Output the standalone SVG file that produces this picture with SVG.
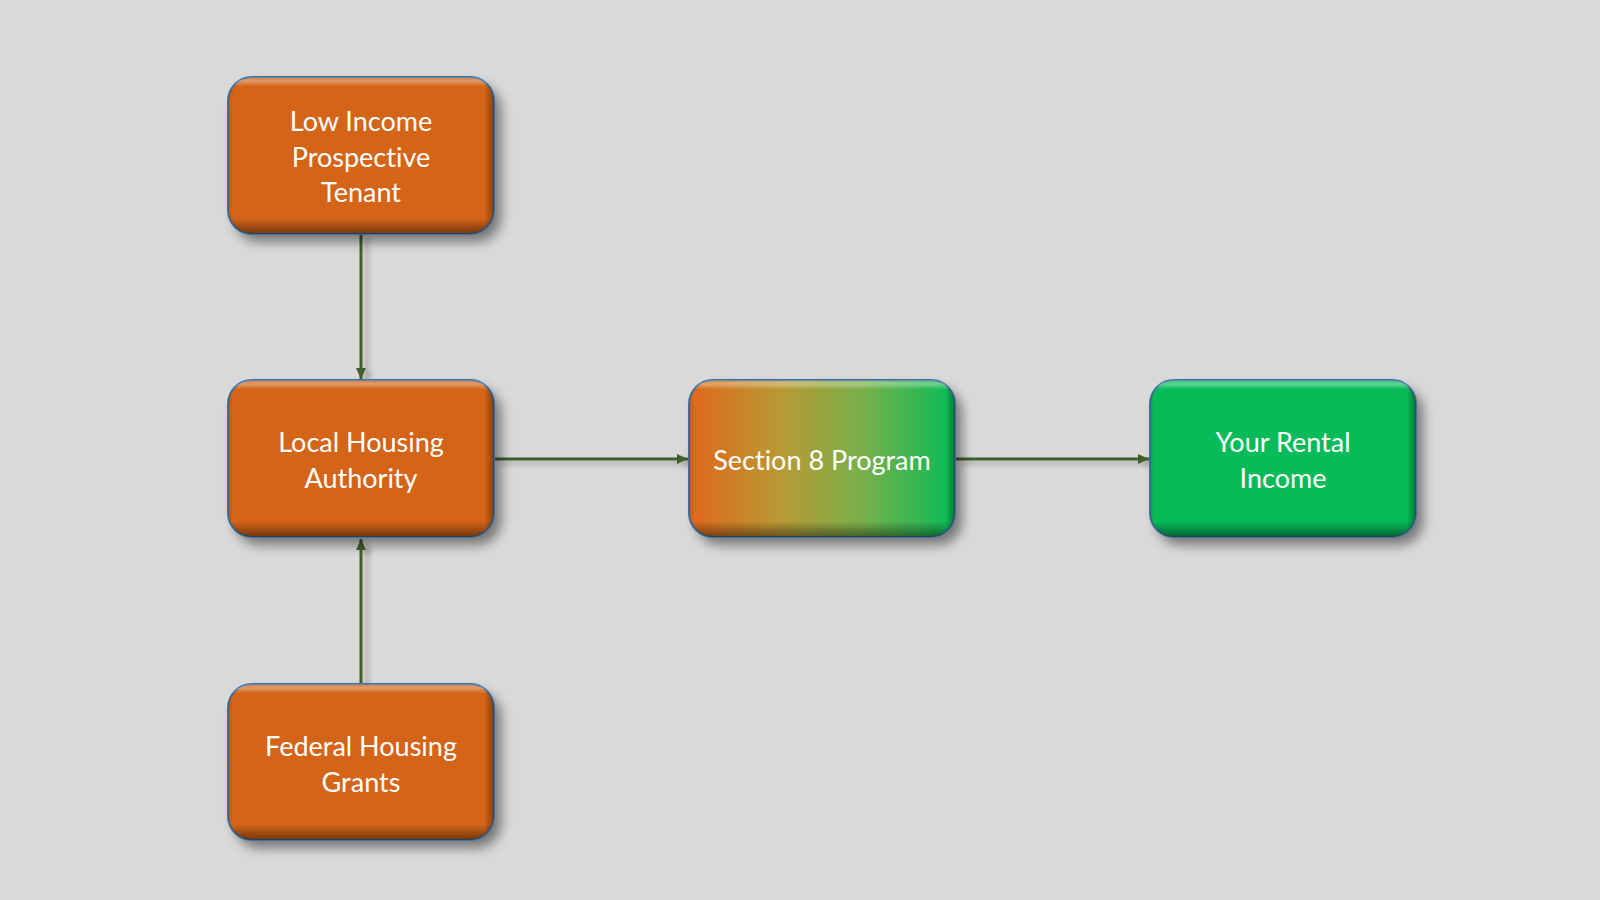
<svg xmlns="http://www.w3.org/2000/svg" width="1600" height="900" viewBox="0 0 1600 900">
<defs>
<style>
.lbl{font-family:Lato,"Open Sans","Liberation Sans",sans-serif;font-size:27px;fill:#ffffff;text-anchor:middle;font-variant-ligatures:none;font-feature-settings:"liga" 0}
.edge{stroke:#3f5f2a;stroke-width:3;fill:none}
.box{stroke:#41719c;stroke-width:2}
</style>
<linearGradient id="sec8" x1="0" y1="0" x2="1" y2="0">
<stop offset="0" stop-color="#e0671a"/>
<stop offset="0.35" stop-color="#b89a35"/>
<stop offset="0.65" stop-color="#79b04a"/>
<stop offset="1" stop-color="#08bc58"/>
</linearGradient>
<linearGradient id="rimV" x1="0" y1="0" x2="0" y2="1">
<stop offset="0" stop-color="#ffffff" stop-opacity="0.15"/>
<stop offset="0.025" stop-color="#ffffff" stop-opacity="0.35"/>
<stop offset="0.06" stop-color="#ffffff" stop-opacity="0"/>
<stop offset="0.9" stop-color="#000000" stop-opacity="0"/>
<stop offset="0.96" stop-color="#000000" stop-opacity="0.28"/>
<stop offset="1" stop-color="#000000" stop-opacity="0.45"/>
</linearGradient>
<linearGradient id="rimH" x1="0" y1="0" x2="1" y2="0">
<stop offset="0" stop-color="#000000" stop-opacity="0.12"/>
<stop offset="0.02" stop-color="#000000" stop-opacity="0"/>
<stop offset="0.965" stop-color="#000000" stop-opacity="0"/>
<stop offset="1" stop-color="#000000" stop-opacity="0.38"/>
</linearGradient>
<filter id="shadow" x="-20%" y="-20%" width="150%" height="150%">
<feGaussianBlur stdDeviation="6"/>
</filter>
<filter id="lshadow" x="-50%" y="-10%" width="200%" height="120%">
<feGaussianBlur in="SourceAlpha" stdDeviation="2.5"/>
<feOffset dx="6" dy="4" result="o"/>
<feComponentTransfer in="o" result="s"><feFuncA type="linear" slope="0.25"/></feComponentTransfer>
<feMerge><feMergeNode in="s"/><feMergeNode in="SourceGraphic"/></feMerge>
</filter>
<marker id="arr" markerUnits="userSpaceOnUse" markerWidth="12" markerHeight="12" viewBox="0 0 12 12" refX="11" refY="6" orient="auto">
<path d="M0,1 L11,6 L0,11 Z" fill="#3f5f2a"/>
</marker>
</defs>
<rect width="1600" height="900" fill="#d9d9d9"/>

<g id="connectors" filter="url(#lshadow)">
<path class="edge" d="M361 234 L361 379" marker-end="url(#arr)"/>
<path class="edge" d="M361 684 L361 539" marker-end="url(#arr)"/>
<path class="edge" d="M494 459 L688 459" marker-end="url(#arr)"/>
<path class="edge" d="M955 459 L1149 459" marker-end="url(#arr)"/>
</g>

<g id="n1">
<rect x="235" y="85" width="266" height="157" rx="24" fill="#000" opacity="0.45" filter="url(#shadow)"/>
<rect class="box" x="228" y="77" width="266" height="157" rx="24" fill="#d46418"/>
<rect x="228" y="77" width="266" height="157" rx="24" fill="url(#rimV)"/>
<rect x="228" y="77" width="266" height="157" rx="24" fill="url(#rimH)"/>
<text class="lbl" x="361" y="131">Low Income</text>
<text class="lbl" x="361" y="166.5">Prospective</text>
<text class="lbl" x="361" y="202">Tenant</text>
</g>

<g id="n2">
<rect x="235" y="388" width="266" height="157" rx="24" fill="#000" opacity="0.45" filter="url(#shadow)"/>
<rect class="box" x="228" y="380" width="266" height="157" rx="24" fill="#d46418"/>
<rect x="228" y="380" width="266" height="157" rx="24" fill="url(#rimV)"/>
<rect x="228" y="380" width="266" height="157" rx="24" fill="url(#rimH)"/>
<text class="lbl" x="361" y="452">Local Housing</text>
<text class="lbl" x="361" y="488">Authority</text>
</g>

<g id="n3">
<rect x="235" y="692" width="266" height="156" rx="24" fill="#000" opacity="0.45" filter="url(#shadow)"/>
<rect class="box" x="228" y="684" width="266" height="156" rx="24" fill="#d46418"/>
<rect x="228" y="684" width="266" height="156" rx="24" fill="url(#rimV)"/>
<rect x="228" y="684" width="266" height="156" rx="24" fill="url(#rimH)"/>
<text class="lbl" x="361" y="756">Federal Housing</text>
<text class="lbl" x="361" y="792">Grants</text>
</g>

<g id="n4">
<rect x="696" y="388" width="266" height="157" rx="24" fill="#000" opacity="0.45" filter="url(#shadow)"/>
<rect class="box" x="689" y="380" width="266" height="157" rx="24" fill="url(#sec8)"/>
<rect x="689" y="380" width="266" height="157" rx="24" fill="url(#rimV)"/>
<rect x="689" y="380" width="266" height="157" rx="24" fill="url(#rimH)"/>
<text class="lbl" x="822" y="470">Section 8 Program</text>
</g>

<g id="n5">
<rect x="1157" y="388" width="266" height="157" rx="24" fill="#000" opacity="0.45" filter="url(#shadow)"/>
<rect class="box" x="1150" y="380" width="266" height="157" rx="24" fill="#07bc58"/>
<rect x="1150" y="380" width="266" height="157" rx="24" fill="url(#rimV)"/>
<rect x="1150" y="380" width="266" height="157" rx="24" fill="url(#rimH)"/>
<text class="lbl" x="1283" y="452">Your Rental</text>
<text class="lbl" x="1283" y="488">Income</text>
</g>
</svg>
